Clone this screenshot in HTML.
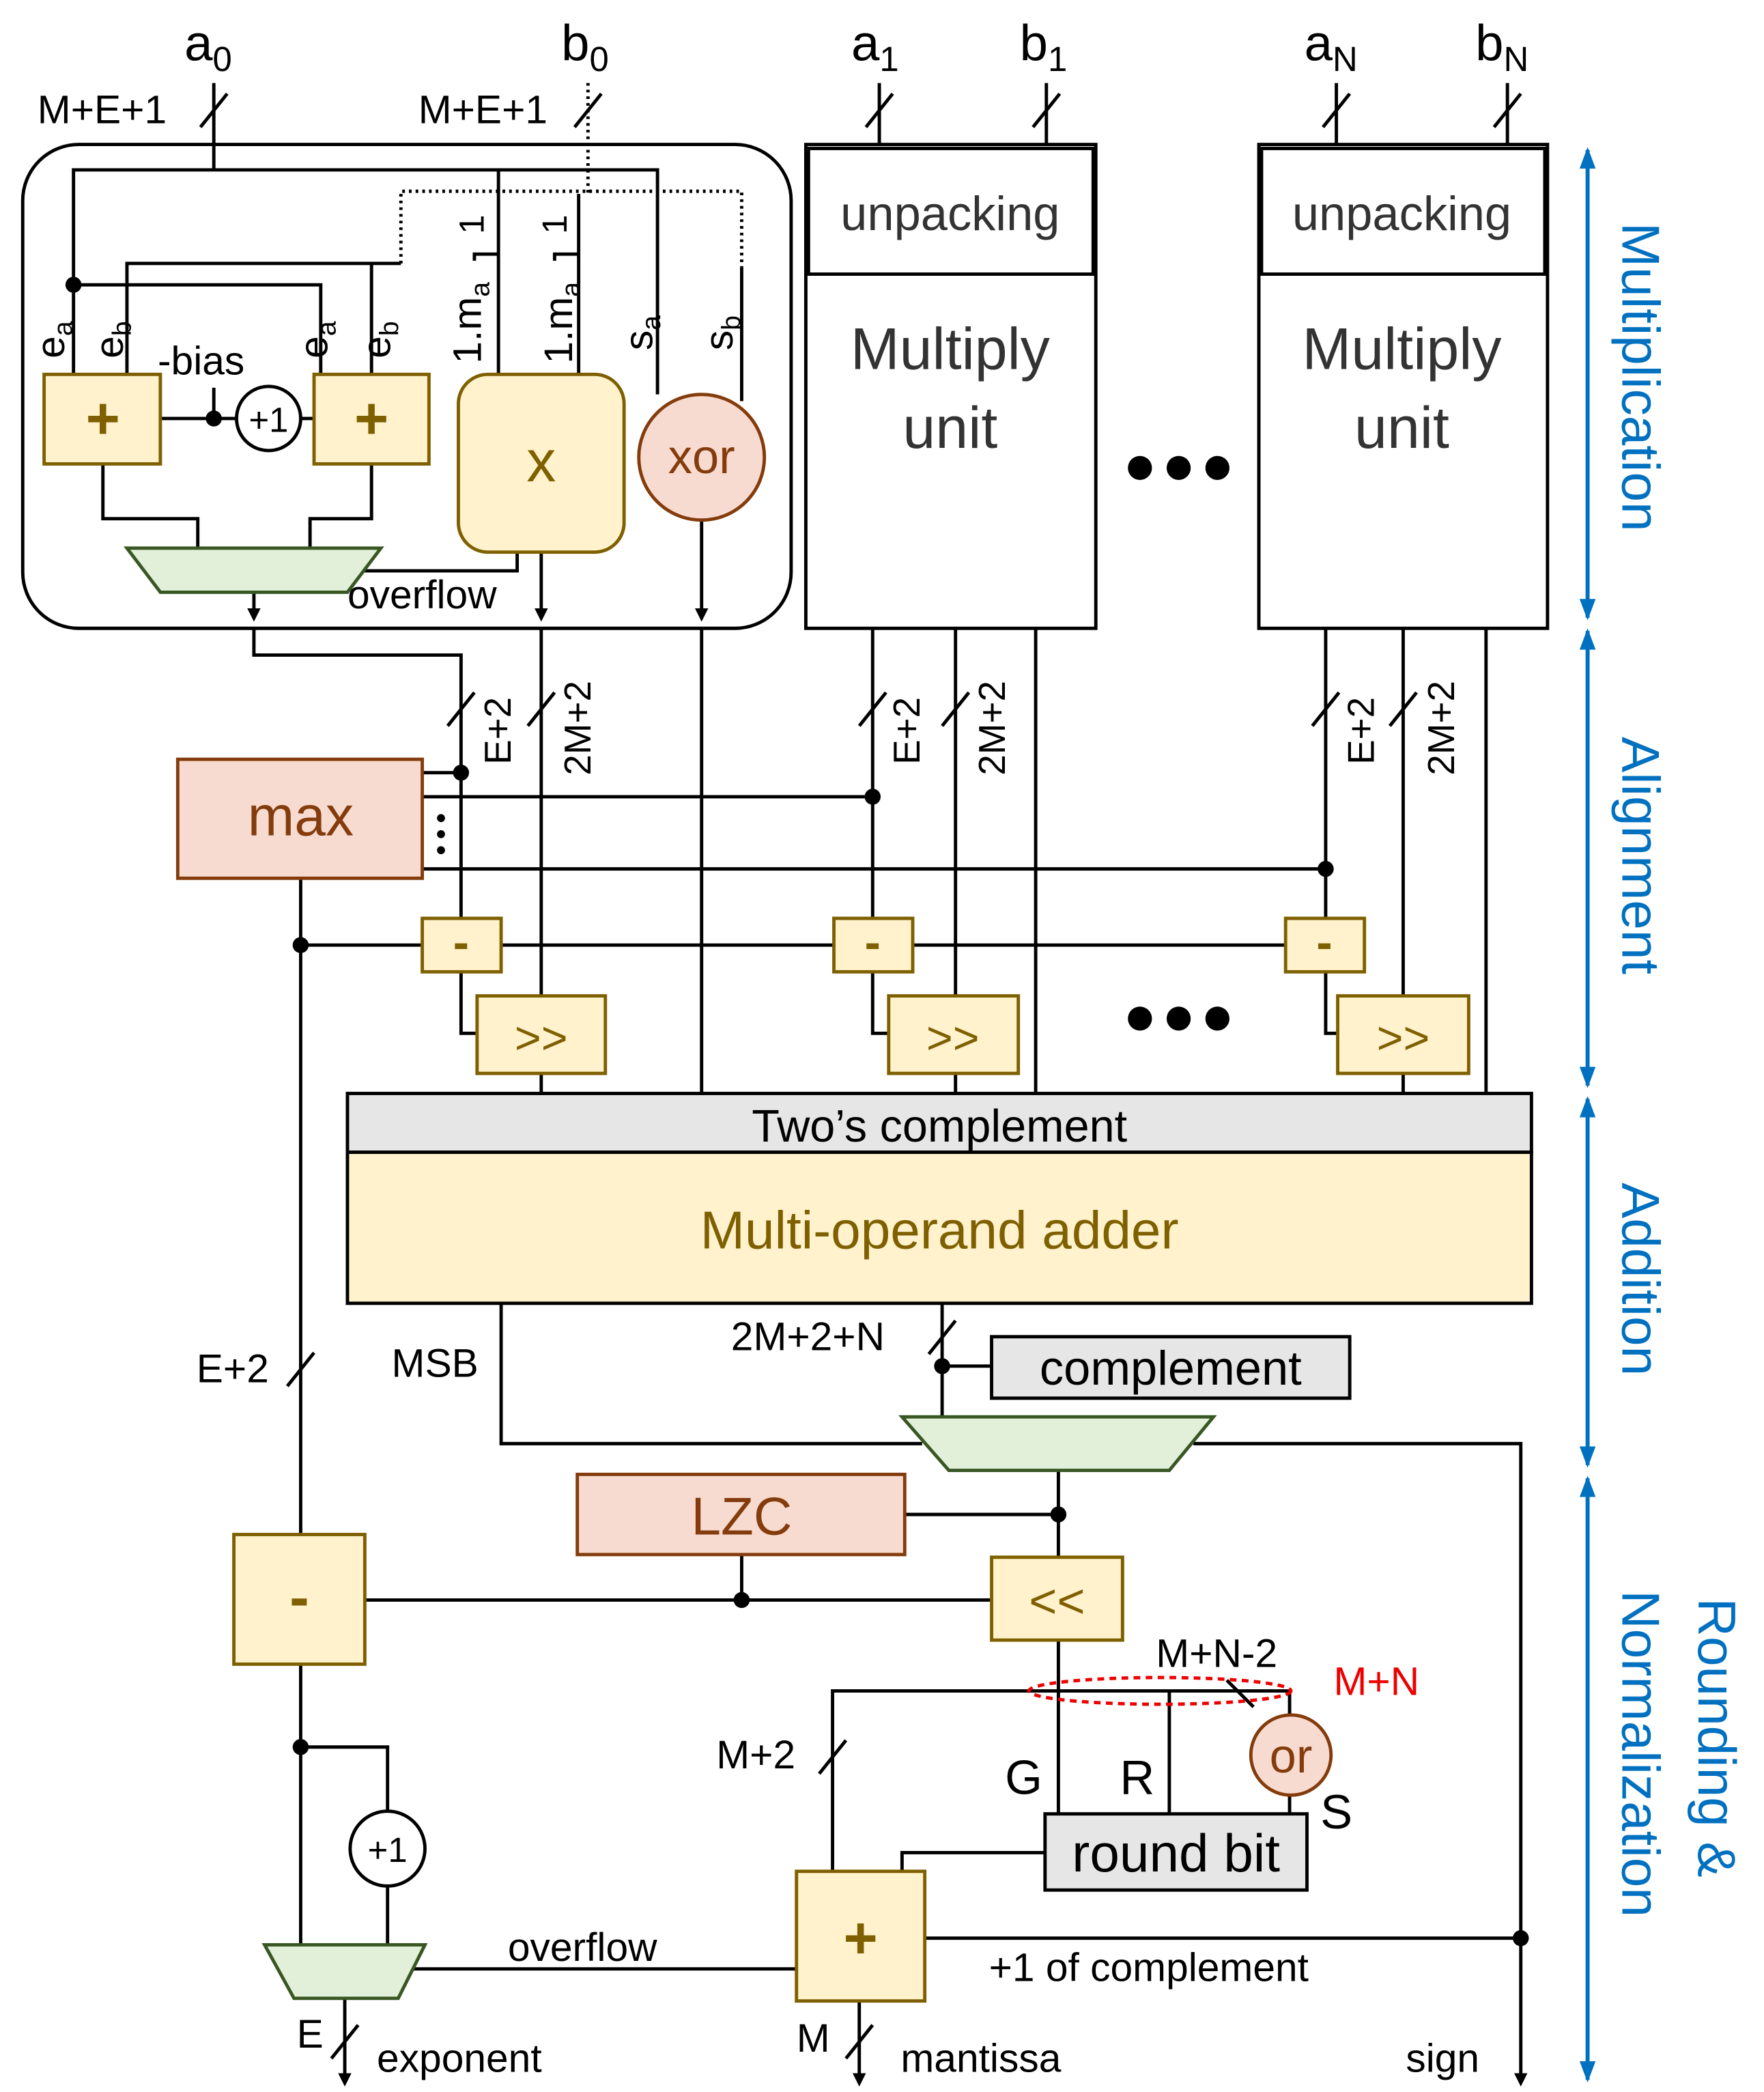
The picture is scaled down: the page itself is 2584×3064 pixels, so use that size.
<!DOCTYPE html>
<html><head><meta charset="utf-8"><style>
html,body{margin:0;padding:0;background:#fff;}
svg{display:block;}
text{font-family:"Liberation Sans",sans-serif;}
</style></head><body>
<svg width="2584" height="3064" viewBox="0 0 1320 1565" xmlns="http://www.w3.org/2000/svg">
<defs>
<marker id="ar" markerWidth="10" markerHeight="10" refX="5" refY="5" orient="auto" markerUnits="userSpaceOnUse"><path d="M0,0 L10,5 L0,10 z" fill="#000"/></marker>
<marker id="bA" markerWidth="16" markerHeight="16" refX="14" refY="8" orient="auto-start-reverse" markerUnits="userSpaceOnUse"><path d="M0,2 L16,8 L0,14 z" fill="#0070c0"/></marker>
</defs>
<g stroke="#000" stroke-width="2.5" fill="none">
<!-- inputs -->
<line x1="160" y1="62" x2="160" y2="127"/><line x1="150" y1="95" x2="170" y2="70"/>
<line x1="440" y1="62" x2="440" y2="145" stroke-dasharray="2,3"/><line x1="430" y1="95" x2="450" y2="70"/>
<line x1="658" y1="62" x2="658" y2="108"/><line x1="648" y1="95" x2="668" y2="70"/>
<line x1="783" y1="62" x2="783" y2="108"/><line x1="773" y1="95" x2="793" y2="70"/>
<line x1="1000" y1="62" x2="1000" y2="108"/><line x1="990" y1="95" x2="1010" y2="70"/>
<line x1="1128" y1="62" x2="1128" y2="108"/><line x1="1118" y1="95" x2="1138" y2="70"/>
<rect x="17" y="108" width="575" height="362" rx="42"/>
<polyline points="55,280 55,127 492,127 492,295"/>
<polyline points="300,197 300,143 555,143 555,200" stroke-dasharray="2,3"/>
<line x1="555" y1="200" x2="555" y2="300"/>
<polyline points="240,280 240,213 55,213"/>
<polyline points="95,280 95,197 300,197 278,197 278,280"/>
<polyline points="373,280 373,127"/><polyline points="355,195 355,190 373,190"/>
<polyline points="433,280 433,145"/><polyline points="415,195 415,190 433,190"/>
<line x1="120" y1="313" x2="235" y2="313"/><line x1="160" y1="313" x2="160" y2="290"/>
<polyline points="77,347 77,388 148,388 148,410"/>
<polyline points="278,347 278,388 232,388 232,410"/>
<polyline points="387,413 387,427 262,427"/>
<line x1="190" y1="443" x2="190" y2="460" marker-end="url(#ar)"/>
<line x1="405" y1="413" x2="405" y2="460" marker-end="url(#ar)"/>
<line x1="525" y1="389" x2="525" y2="460" marker-end="url(#ar)"/>
<!-- alignment wiring -->
<polyline points="190,470 190,490 345,490 345,687"/>
<line x1="405" y1="470" x2="405" y2="745"/>
<line x1="525" y1="470" x2="525" y2="818"/>
<line x1="335" y1="543" x2="355" y2="518"/><line x1="395" y1="543" x2="415" y2="518"/>
<line x1="653" y1="470" x2="653" y2="687"/><line x1="715" y1="470" x2="715" y2="745"/><line x1="775" y1="470" x2="775" y2="818"/>
<line x1="643" y1="543" x2="663" y2="518"/><line x1="705" y1="543" x2="725" y2="518"/>
<line x1="992" y1="470" x2="992" y2="687"/><line x1="1050" y1="470" x2="1050" y2="745"/><line x1="1112" y1="470" x2="1112" y2="818"/>
<line x1="982" y1="543" x2="1002" y2="518"/><line x1="1040" y1="543" x2="1060" y2="518"/>
<line x1="316" y1="578" x2="345" y2="578"/>
<line x1="316" y1="596" x2="653" y2="596"/>
<line x1="316" y1="650" x2="992" y2="650"/>
<line x1="225" y1="657" x2="225" y2="1148"/>
<line x1="225" y1="707" x2="962" y2="707"/>
<polyline points="345,727 345,773 357,773"/><polyline points="653,727 653,773 665,773"/><polyline points="992,727 992,773 1001,773"/>
<line x1="405" y1="803" x2="405" y2="818"/><line x1="715" y1="803" x2="715" y2="818"/><line x1="1050" y1="803" x2="1050" y2="818"/>
<!-- below adder -->
<polyline points="375,975 375,1080 690,1080"/>
<polyline points="893,1080 1138,1080 1138,1553"/>
<line x1="705" y1="975" x2="705" y2="1060"/><line x1="705" y1="1022" x2="742" y2="1022"/>
<line x1="695" y1="1013" x2="715" y2="988"/>
<line x1="215" y1="1037" x2="235" y2="1012"/>
<line x1="792" y1="1100" x2="792" y2="1165"/><line x1="677" y1="1133" x2="792" y2="1133"/>
<line x1="273" y1="1197" x2="742" y2="1197"/><line x1="555" y1="1163" x2="555" y2="1197"/>
<line x1="792" y1="1227" x2="792" y2="1357"/>
<polyline points="623,1400 623,1265 965,1265 965,1283"/>
<line x1="875" y1="1265" x2="875" y2="1357"/>
<line x1="965" y1="1343" x2="965" y2="1357"/>
<line x1="918" y1="1257" x2="938" y2="1277"/>
<line x1="613" y1="1327" x2="633" y2="1302"/>
<polyline points="782,1386 675,1386 675,1400"/>
<line x1="692" y1="1450" x2="1138" y2="1450"/>
<line x1="300" y1="1473" x2="596" y2="1473"/>
<line x1="643" y1="1497" x2="643" y2="1553"/>
<line x1="633" y1="1540" x2="653" y2="1515"/>
<line x1="225" y1="1245" x2="225" y2="1455"/>
<polyline points="225,1307 290,1307 290,1355"/><line x1="290" y1="1411" x2="290" y2="1455"/>
<line x1="258" y1="1495" x2="258" y2="1553"/>
<line x1="248" y1="1540" x2="268" y2="1515"/>
<line x1="258" y1="1553" x2="258" y2="1556" marker-end="url(#ar)"/>
<line x1="643" y1="1553" x2="643" y2="1556" marker-end="url(#ar)"/>
<line x1="1138" y1="1553" x2="1138" y2="1556" marker-end="url(#ar)"/>
</g>
<!-- dots -->
<g fill="#000">
<circle cx="55" cy="213" r="6"/><circle cx="160" cy="313" r="6"/>
<circle cx="345" cy="578" r="6"/><circle cx="653" cy="596" r="6"/><circle cx="992" cy="650" r="6"/>
<circle cx="225" cy="707" r="6"/><circle cx="705" cy="1022" r="6"/><circle cx="792" cy="1133" r="6"/>
<circle cx="555" cy="1197" r="6"/><circle cx="1138" cy="1450" r="6"/><circle cx="225" cy="1307" r="6"/>
<circle cx="330" cy="612" r="3"/><circle cx="330" cy="624" r="3"/><circle cx="330" cy="636" r="3"/>
<circle cx="853" cy="350" r="9"/><circle cx="882" cy="350" r="9"/><circle cx="911" cy="350" r="9"/>
<circle cx="853" cy="762" r="9"/><circle cx="882" cy="762" r="9"/><circle cx="911" cy="762" r="9"/>
</g>
<!-- shapes -->
<g stroke-width="2.5">
<rect x="33" y="280" width="87" height="67" fill="#fff2cc" stroke="#7f6000"/>
<rect x="235" y="280" width="86" height="67" fill="#fff2cc" stroke="#7f6000"/>
<circle cx="201" cy="313" r="24" fill="#fff" stroke="#000"/>
<rect x="343" y="280" width="124" height="133" rx="22" fill="#fff2cc" stroke="#7f6000"/>
<circle cx="525" cy="342" r="47" fill="#f8dbd0" stroke="#843c0c"/>
<polygon points="95,410 285,410 260,443 120,443" fill="#e2efd9" stroke="#385723"/>
<rect x="603" y="108" width="217" height="362" fill="#fff" stroke="#000"/>
<rect x="605" y="111" width="213" height="94" fill="#fff" stroke="#000"/>
<rect x="942" y="108" width="216" height="362" fill="#fff" stroke="#000"/>
<rect x="944" y="111" width="212" height="94" fill="#fff" stroke="#000"/>
<rect x="133" y="568" width="183" height="89" fill="#f8dbd0" stroke="#843c0c"/>
<rect x="316" y="687" width="59" height="40" fill="#fff2cc" stroke="#7f6000"/>
<rect x="624" y="687" width="59" height="40" fill="#fff2cc" stroke="#7f6000"/>
<rect x="962" y="687" width="59" height="40" fill="#fff2cc" stroke="#7f6000"/>
<rect x="357" y="745" width="96" height="58" fill="#fff2cc" stroke="#7f6000"/>
<rect x="665" y="745" width="97" height="58" fill="#fff2cc" stroke="#7f6000"/>
<rect x="1001" y="745" width="98" height="58" fill="#fff2cc" stroke="#7f6000"/>
<rect x="260" y="818" width="886" height="44" fill="#e6e6e6" stroke="#000"/>
<rect x="260" y="862" width="886" height="113" fill="#fff2cc" stroke="#000"/>
<rect x="742" y="1000" width="268" height="46" fill="#e6e6e6" stroke="#000"/>
<polygon points="675,1060 908,1060 875,1100 710,1100" fill="#e2efd9" stroke="#385723"/>
<rect x="432" y="1103" width="245" height="60" fill="#f8dbd0" stroke="#843c0c"/>
<rect x="742" y="1165" width="98" height="62" fill="#fff2cc" stroke="#7f6000"/>
<rect x="175" y="1148" width="98" height="97" fill="#fff2cc" stroke="#7f6000"/>
<circle cx="966" cy="1313" r="30" fill="#f8dbd0" stroke="#843c0c"/>
<rect x="782" y="1357" width="196" height="57" fill="#e6e6e6" stroke="#000"/>
<rect x="596" y="1400" width="96" height="97" fill="#fff2cc" stroke="#7f6000"/>
<circle cx="290" cy="1383" r="28" fill="#fff" stroke="#000"/>
<polygon points="198,1455 318,1455 298,1495 220,1495" fill="#e2efd9" stroke="#385723"/>
<ellipse cx="868" cy="1265" rx="98" ry="10" fill="none" stroke="#e00" stroke-dasharray="5,4"/>
</g>
<!-- blue arrows -->
<g stroke="#0070c0" stroke-width="3">
<line x1="1188" y1="112" x2="1188" y2="462" marker-start="url(#bA)" marker-end="url(#bA)"/>
<line x1="1188" y1="472" x2="1188" y2="812" marker-start="url(#bA)" marker-end="url(#bA)"/>
<line x1="1188" y1="822" x2="1188" y2="1096" marker-start="url(#bA)" marker-end="url(#bA)"/>
<line x1="1188" y1="1106" x2="1188" y2="1556" marker-start="url(#bA)" marker-end="url(#bA)"/>
</g>
<g fill="#0070c0" font-size="40" text-anchor="middle">
<text transform="translate(1214,282) rotate(90)">Multiplication</text>
<text transform="translate(1214,640) rotate(90)">Alignment</text>
<text transform="translate(1214,957) rotate(90)">Addition</text>
<text transform="translate(1271,1300) rotate(90)">Rounding &amp;</text>
<text transform="translate(1214,1312) rotate(90)">Normalization</text>
</g>
<!-- text -->
<g font-size="30" fill="#000">
<text x="138" y="45" font-size="38">a<tspan font-size="26" dy="8">0</tspan></text>
<text x="420" y="45" font-size="38">b<tspan font-size="26" dy="8">0</tspan></text>
<text x="637" y="45" font-size="38">a<tspan font-size="26" dy="8">1</tspan></text>
<text x="763" y="45" font-size="38">b<tspan font-size="26" dy="8">1</tspan></text>
<text x="976" y="45" font-size="38">a<tspan font-size="26" dy="8">N</tspan></text>
<text x="1104" y="45" font-size="38">b<tspan font-size="26" dy="8">N</tspan></text>
<text x="28" y="92">M+E+1</text>
<text x="313" y="92">M+E+1</text>
<text transform="translate(48,268) rotate(-90)">e<tspan font-size="20" dy="6">a</tspan></text>
<text transform="translate(92,268) rotate(-90)">e<tspan font-size="20" dy="6">b</tspan></text>
<text transform="translate(245,268) rotate(-90)">e<tspan font-size="20" dy="6">a</tspan></text>
<text transform="translate(292,268) rotate(-90)">e<tspan font-size="20" dy="6">b</tspan></text>
<text transform="translate(360,272) rotate(-90)">1.m<tspan font-size="20" dy="6">a</tspan></text>
<text transform="translate(428,272) rotate(-90)">1.m<tspan font-size="20" dy="6">a</tspan></text>
<text transform="translate(488,262) rotate(-90)">s<tspan font-size="20" dy="6">a</tspan></text>
<text transform="translate(548,262) rotate(-90)">s<tspan font-size="20" dy="6">b</tspan></text>
<text transform="translate(362,175) rotate(-90)" font-size="26">1</text>
<text transform="translate(424,175) rotate(-90)" font-size="26">1</text>
<text x="118" y="280">-bias</text>
<text x="201" y="323" text-anchor="middle" font-size="26">+1</text>
<text x="290" y="1393" text-anchor="middle" font-size="26">+1</text>
<text x="260" y="455">overflow</text>
<text transform="translate(382,572) rotate(-90)" font-size="28">E+2</text>
<text transform="translate(442,580) rotate(-90)" font-size="28">2M+2</text>
<text transform="translate(688,572) rotate(-90)" font-size="28">E+2</text>
<text transform="translate(752,580) rotate(-90)" font-size="28">2M+2</text>
<text transform="translate(1028,572) rotate(-90)" font-size="28">E+2</text>
<text transform="translate(1088,580) rotate(-90)" font-size="28">2M+2</text>
<text x="703" y="854" text-anchor="middle" font-size="34">Two’s complement</text>
<text x="293" y="1030">MSB</text>
<text x="547" y="1010">2M+2+N</text>
<text x="147" y="1034">E+2</text>
<text x="876" y="1036" text-anchor="middle" font-size="36">complement</text>
<text x="865" y="1247">M+N-2</text>
<text x="536" y="1323">M+2</text>
<text x="752" y="1342" font-size="36">G</text>
<text x="838" y="1342" font-size="36">R</text>
<text x="988" y="1368" font-size="36">S</text>
<text x="880" y="1400" text-anchor="middle" font-size="40">round bit</text>
<text x="380" y="1467">overflow</text>
<text x="740" y="1482">+1 of complement</text>
<text x="222" y="1532">E</text>
<text x="282" y="1550">exponent</text>
<text x="596" y="1535">M</text>
<text x="674" y="1550">mantissa</text>
<text x="1052" y="1550">sign</text>
</g>
<text x="1030" y="1268" font-size="30" fill="#e00" text-anchor="middle">M+N</text>
<g text-anchor="middle" fill="#7f6000" font-weight="bold">
<text x="77" y="328" font-size="44">+</text>
<text x="278" y="328" font-size="44">+</text>
<text x="405" y="360" font-size="44" font-weight="normal">x</text>
<text x="345" y="717" font-size="36">-</text>
<text x="653" y="717" font-size="36">-</text>
<text x="991" y="717" font-size="36">-</text>
<text x="405" y="788" font-size="34" font-weight="normal">&gt;&gt;</text>
<text x="713" y="788" font-size="34" font-weight="normal">&gt;&gt;</text>
<text x="1050" y="788" font-size="34" font-weight="normal">&gt;&gt;</text>
<text x="791" y="1210" font-size="36" font-weight="normal">&lt;&lt;</text>
<text x="224" y="1210" font-size="44">-</text>
<text x="644" y="1465" font-size="44">+</text>
<text x="703" y="934" font-size="40" font-weight="normal">Multi-operand adder</text>
</g>
<g text-anchor="middle" fill="#843c0c">
<text x="525" y="354" font-size="36">xor</text>
<text x="225" y="625" font-size="42">max</text>
<text x="555" y="1148" font-size="40">LZC</text>
<text x="966" y="1326" font-size="36">or</text>
</g>
<g text-anchor="middle" fill="#333">
<text x="711" y="172" font-size="36">unpacking</text>
<text x="1049" y="172" font-size="36">unpacking</text>
<text x="711" y="276" font-size="44">Multiply</text>
<text x="711" y="335" font-size="44">unit</text>
<text x="1049" y="276" font-size="44">Multiply</text>
<text x="1049" y="335" font-size="44">unit</text>
</g>
</svg>
</body></html>
